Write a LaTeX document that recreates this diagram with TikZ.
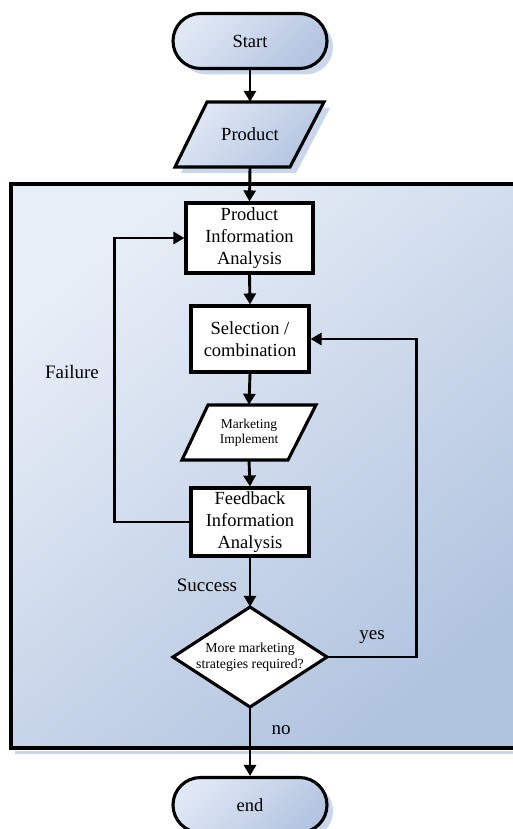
\documentclass[tikz,border=0pt]{standalone}
\usepackage{fontspec}
\setmainfont{Liberation Serif}
\usetikzlibrary{arrows.meta,calc,shadows}

\definecolor{termA}{HTML}{E0E8F5}
\definecolor{termB}{HTML}{B4C5E1}
\definecolor{panelA}{HTML}{E8EEF7}
\definecolor{panelB}{HTML}{B0C3DF}
\definecolor{shadowblue}{HTML}{C9D6EB}

\begin{document}
\begin{tikzpicture}[x=1pt,y=-1pt,
  line join=miter,
  flow/.style={line width=2.9pt,-{Triangle[length=11pt,width=12pt]}},
  edge/.style={line width=3.1pt},
  txt/.style={font=\fontsize{18.5}{22}\selectfont, align=center},
  smalltxt/.style={font=\fontsize{13.5}{15}\selectfont, align=center},
  dtxt/.style={font=\fontsize{13.8}{15.5}\selectfont, align=center},
  lbl/.style={font=\fontsize{19}{22}\selectfont},
  term/.style={txt, draw, edge, rectangle, rounded corners=27.5pt,
    minimum width=154pt, minimum height=55pt,
    top color=termA, bottom color=termB, shading angle=45,
    general shadow={fill=shadowblue, shadow xshift=6pt, shadow yshift=-6pt}},
  procbox/.style={txt, draw, edge, fill=white, rectangle, inner sep=0pt},
  anchorbox/.style={rectangle, inner sep=0pt},
]
\useasboundingbox (0,0) rectangle (513,829);
\clip (0,0) rectangle (513,829);

% large background panel
\shade[top color=panelA, bottom color=panelB, shading angle=40]
  (11,184) rectangle (530,748);
\draw[shadowblue, line width=3pt] (15,752.5) -- (530,752.5);
\draw[edge] (530,184) -- (11,184) -- (11,748) -- (530,748);

% terminals
\node[term] (start) at (250,41) {Start};
\node[term] (end) at (250,805) {end};

% input: Product
\fill[shadowblue] (213,108) -- (330,108) -- (296,173) -- (181,173) -- cycle;
\shade[edge, draw, top color=termA, bottom color=termB, shading angle=45]
  (207,102) -- (324,102) -- (290,167) -- (175,167) -- cycle;
\node[txt, anchorbox, minimum height=65pt, minimum width=80pt] (prod) at (250,134.5) {Product};

% process boxes
\node[procbox, minimum width=127pt, minimum height=70pt] (pia) at (249.5,238) {Product\\Information\\Analysis};
\node[procbox, minimum width=118pt, minimum height=66pt] (sel) at (250,339) {Selection /\\combination};
\node[procbox, minimum width=118pt, minimum height=68pt] (fb) at (250,522) {Feedback\\Information\\Analysis};

% input: Marketing Implement
\draw[edge, fill=white] (208,405) -- (316,405) -- (288,460) -- (182,460) -- cycle;
\node[smalltxt, anchorbox, minimum height=55pt, minimum width=60pt] (mkt) at (249,432.5) {Marketing\\Implement};

% decision
\draw[edge, fill=white] (250,607) -- (327,657) -- (250,707) -- (173,657) -- cycle;
\node[dtxt, anchorbox, minimum width=154pt, minimum height=100pt] (dia) at (250,657) {More marketing\\strategies required?};

% connectors
\draw[flow] (start.south) -- (prod.north);
\draw[flow] (prod.south) -- (pia.north);
\draw[flow] (pia.south) -- (sel.north);
\draw[flow] (sel.south) -- (mkt.north);
\draw[flow] (mkt.south) -- (fb.north);
\draw[flow] (fb.south) -- (dia.north);
\draw[flow] (dia.south) -- (end.north);
\draw[flow] (dia.east) -- ++(89,0) |- (sel.east);
\draw[flow] (fb.west) -- ++(-75,0) |- (pia.west);

% labels
\node[lbl] (lfail) at (72,372) {Failure};
\node[lbl] (lsucc) at (207,585) {Success};
\node[lbl] (lyes) at (372,637) {yes};
\node[lbl] (lno) at (281,730) {no};
\end{tikzpicture}
\end{document}
